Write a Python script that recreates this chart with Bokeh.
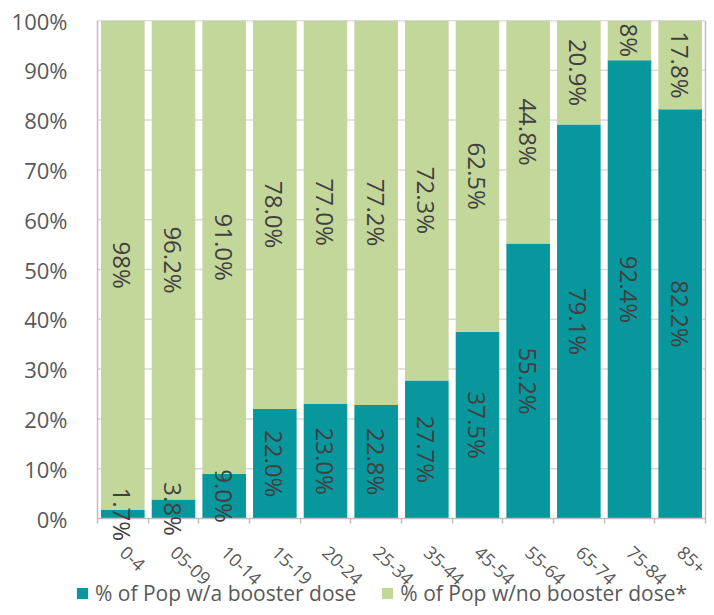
import numpy as np
from bokeh.plotting import figure
from bokeh.models import (ColumnDataSource, FixedTicker, PrintfTickFormatter,
                          Legend, LegendItem, Range1d, LinearAxis)
from bokeh.embed import file_html
from bokeh.resources import INLINE
from bokeh.core.properties import value

categories = ["0-4", "05-09", "10-14", "15-19", "20-24", "25-34",
              "35-44", "45-54", "55-64", "65-74", "75-84", "85+"]
booster = [1.7, 3.8, 9.0, 22.0, 23.0, 22.8, 27.7, 37.5, 55.2, 79.1, 92.4, 82.2]
no_booster = [98.0, 96.2, 91.0, 78.0, 77.0, 77.2, 72.3, 62.5, 44.8, 20.9, 8.0, 17.8]
booster_labels = ["1.7%", "3.8%", "9.0%", "22.0%", "23.0%", "22.8%",
                  "27.7%", "37.5%", "55.2%", "79.1%", "92.4%", "82.2%"]
no_booster_labels = ["98%", "96.2%", "91.0%", "78.0%", "77.0%", "77.2%",
                     "72.3%", "62.5%", "44.8%", "20.9%", "8%", "17.8%"]
series_names = ["% of Pop w/a booster dose", "% of Pop w/no booster dose*"]
y_ticks = [0, 10, 20, 30, 40, 50, 60, 70, 80, 90, 100]

TEAL = "#07979C"
GREEN = "#C4D79B"
FONT = "Open Sans"
TXT = "#404040"
AX = "#595959"
BORDER = "#BFBFBF"
GRID = "#D9D9D9"

b = np.array(booster)
n = np.array(no_booster)
tot = b + n
b_pct = b / tot * 100
top_pct = np.full(len(b), 100.0)
xc = np.arange(len(categories)) + 0.5
ncat = len(categories)

src = ColumnDataSource(dict(
    x=xc, b=b_pct, t=top_pct, zero=np.zeros(len(b)),
    yb=b_pct / 2, yn=(b_pct + top_pct) / 2,
    lb=booster_labels, ln=no_booster_labels,
))

# The frame is larger than the plotted area (0..ncat, 0..100%) so that the
# category labels, the spilling segment labels and the legend stay visible.
CAT_W = 608 / ncat        # pixels per category
LEFT_PAD = 22             # frame extends this many px left of the plot area
RIGHT_PAD = 6             # and this many px right of it
PLOT_H = 498              # pixels from 0% to 100%
FRAME_H = 590
x_start = -LEFT_PAD / CAT_W
x_end = ncat + RIGHT_PAD / CAT_W
y_start = -100.0 * (FRAME_H - PLOT_H) / PLOT_H

p = figure(frame_width=608 + LEFT_PAD + RIGHT_PAD, frame_height=FRAME_H,
           output_backend="svg", toolbar_location=None,
           x_range=Range1d(x_start, x_end),
           y_range=Range1d(y_start, y_ticks[-1]), x_axis_location=None,
           min_border_left=75, min_border_top=20,
           min_border_right=1, min_border_bottom=0)
p.background_fill_color = "white"
p.outline_line_color = None
p.xgrid.visible = False
p.ygrid.visible = False

# horizontal gridlines inside the plot area
gy = y_ticks[1:-1]
p.segment(x0=[0] * len(gy), y0=gy, x1=[ncat] * len(gy), y1=gy,
          line_color=GRID, line_width=1.5)

r1 = p.vbar(x="x", bottom="zero", top="b", width=0.86, source=src,
            fill_color=TEAL, line_color=None)
r2 = p.vbar(x="x", bottom="b", top="t", width=0.86, source=src,
            fill_color=GREEN, line_color=None)

# plot-area border (left, right, top, bottom axis line)
p.segment(x0=[0, ncat, 0, 0],
          y0=[y_ticks[0], y_ticks[0], y_ticks[-1], y_ticks[0]],
          x1=[0, ncat, ncat, ncat],
          y1=[y_ticks[-1], y_ticks[-1], y_ticks[-1], y_ticks[0]],
          line_color=BORDER, line_width=1.5)

p.text(x="x", y="yb", text="lb", source=src, angle=-np.pi / 2,
       text_align="center", text_baseline="middle", text_color=TXT,
       text_font=value(FONT), text_font_size="24px")
p.text(x="x", y="yn", text="ln", source=src, angle=-np.pi / 2,
       text_align="center", text_baseline="middle", text_color=TXT,
       text_font=value(FONT), text_font_size="24px")

# y axis
p.yaxis.ticker = FixedTicker(ticks=y_ticks)
p.yaxis.formatter = PrintfTickFormatter(format="%d%%")
p.yaxis.axis_line_color = None
p.yaxis.major_tick_line_color = None
p.yaxis.minor_tick_line_color = None
p.yaxis.major_label_text_font = FONT
p.yaxis.major_label_text_font_size = "22px"
p.yaxis.major_label_text_color = AX
p.yaxis.major_label_standoff = 2

# x axis at the 0% line
xaxis = LinearAxis(fixed_location=0,
                   ticker=FixedTicker(ticks=list(xc),
                                      minor_ticks=list(range(ncat + 1))))
xaxis.major_label_overrides = {float(x): c for x, c in zip(xc, categories)}
xaxis.major_label_orientation = -0.75
xaxis.major_tick_line_color = None
xaxis.major_tick_out = 0
xaxis.major_tick_in = 0
xaxis.minor_tick_line_color = BORDER
xaxis.minor_tick_line_width = 1.5
xaxis.minor_tick_out = 5
xaxis.minor_tick_in = 0
xaxis.axis_line_color = None
xaxis.major_label_text_font = FONT
xaxis.major_label_text_font_size = "18px"
xaxis.major_label_text_color = AX
xaxis.major_label_standoff = 26
p.add_layout(xaxis, "below")

legend = Legend(items=[LegendItem(label=series_names[0], renderers=[r1]),
                       LegendItem(label=series_names[1], renderers=[r2])],
                orientation="horizontal", location=(0, 3),
                label_text_font=FONT, label_text_font_size="21px",
                label_text_color=AX, glyph_width=14, glyph_height=14,
                label_standoff=6, spacing=24, border_line_color=None,
                background_fill_alpha=0, padding=0, margin=0)
p.add_layout(legend, "center")

open("out.html", "w").write(file_html(p, INLINE))
